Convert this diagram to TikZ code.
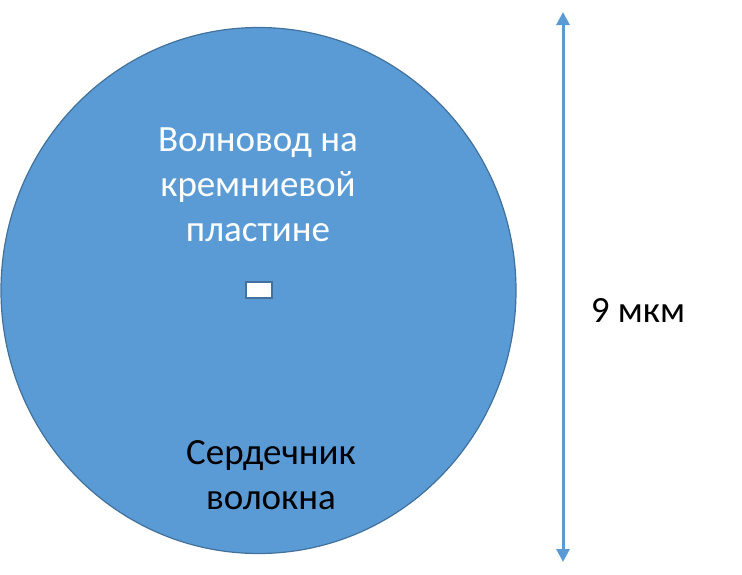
\documentclass[tikz,border=0pt]{standalone}
\usepackage{fontspec}
\setmainfont{Carlito}
\usetikzlibrary{arrows.meta}
\definecolor{fillblue}{HTML}{5B9BD5}
\definecolor{edgeblue}{HTML}{41719C}
\begin{document}
\begin{tikzpicture}[x=1pt,y=-1pt,
  lbl/.style={font=\fontsize{37}{45}\selectfont, align=center, inner sep=0pt},
  dim/.style={draw=fillblue, line width=3pt, {Triangle[length=13pt,width=13pt]}-{Triangle[length=13pt,width=13pt]}}]
\useasboundingbox (0,0) rectangle (742,574);
\fill[white] (0,0) rectangle (742,574);
\draw[edgeblue, fill=fillblue, line width=1.2pt] (258.5,290.5) ellipse [x radius=257.5, y radius=263];
\node[draw=edgeblue, line width=2pt, fill=white, minimum width=26pt, minimum height=16pt, inner sep=0pt] (wg) at (258.5,290) {};
\node[lbl, text=white] (wgtext) at (258,185) {Волновод на\\кремниевой\\пластине};
\node[lbl, text=black] (core) at (271,475) {Сердечник\\волокна};
\coordinate (top) at (563,12);
\coordinate (bot) at (563,562);
\draw[dim] (top) -- (bot);
\node[lbl] (size) at (638,310) {9 мкм};
\end{tikzpicture}
\end{document}
